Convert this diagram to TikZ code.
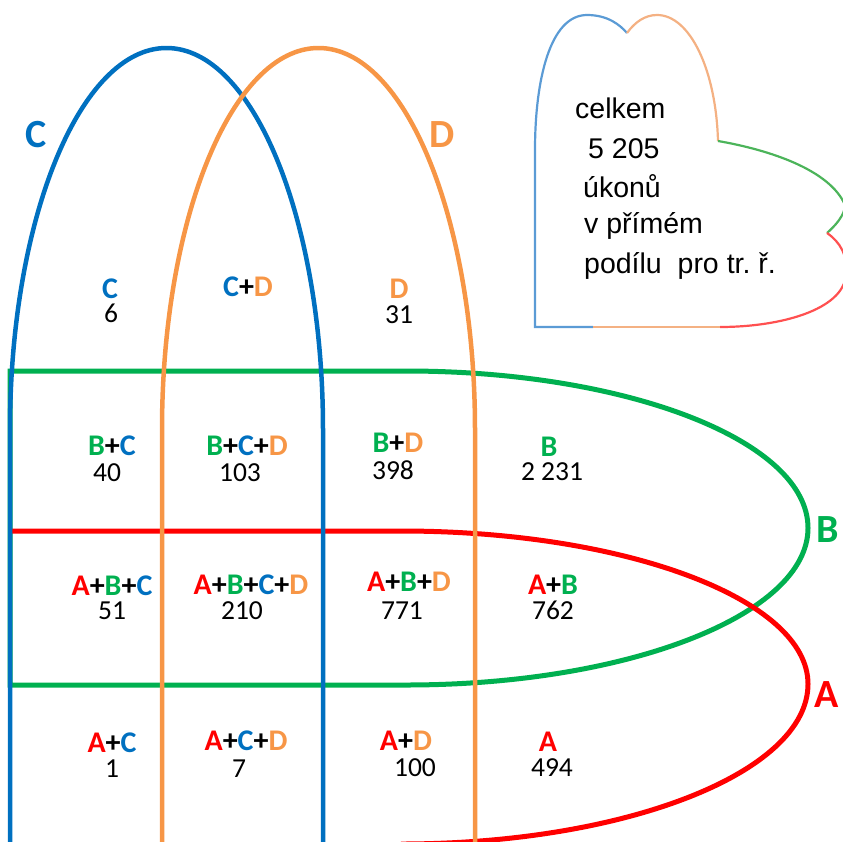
\documentclass[tikz,border=0pt]{standalone}
\usepackage{fontspec}
\newfontfamily\cellfont{Carlito}
\newfontfamily\notefont{Liberation Sans}
\definecolor{setA}{HTML}{FF0000}
\definecolor{setB}{HTML}{00B050}
\definecolor{setC}{HTML}{0070C0}
\definecolor{setD}{HTML}{F79646}
\definecolor{heartC}{HTML}{5B9BD5}
\definecolor{heartD}{HTML}{F4B183}
\definecolor{heartB}{HTML}{4CB45A}
\definecolor{heartA}{HTML}{FF5050}
\newcommand{\lA}{\textcolor{setA}{A}}
\newcommand{\lB}{\textcolor{setB}{B}}
\newcommand{\lC}{\textcolor{setC}{C}}
\newcommand{\lD}{\textcolor{setD}{D}}
\tikzstyle{setline} = [line width=5pt]
\tikzstyle{arch} = [line width=4.5pt]
\tikzstyle{heart} = [line width=2.2pt]
\tikzstyle{cell} = [font=\cellfont\bfseries\fontsize{30}{30}\selectfont, anchor=base, inner sep=0pt]
\tikzstyle{count} = [font=\cellfont\fontsize{27.5}{27.5}\selectfont, anchor=base, inner sep=0pt]
\tikzstyle{setname} = [font=\cellfont\bfseries\fontsize{40}{40}\selectfont, anchor=base, inner sep=0pt]
\tikzstyle{note} = [font=\notefont\fontsize{28.5}{28.5}\selectfont, anchor=base west, inner sep=0pt]

\begin{document}
\begin{tikzpicture}[x=1pt, y=-1pt]
    \useasboundingbox (0,0) rectangle (843,841);
    % Sets B and A
    \draw [setline, setB] (10,685) -- (10,371) -- (406,371)
        arc [start angle=-90, end angle=90, x radius=402, y radius=157] -- cycle;
    \draw [setline, setA] (12,531) -- (401,531)
        arc [start angle=-90, end angle=0, x radius=407, y radius=153]
        arc [start angle=0, end angle=90, x radius=407, y radius=160];
    % Sets C and D
    \draw [arch, setC] (10,850) -- (10,430)
        arc [start angle=180, end angle=360, x radius=156.5, y radius=382] -- (323,850);
    \draw [arch, setD] (162,850) -- (162,430)
        arc [start angle=180, end angle=360, x radius=156.5, y radius=382] -- (475,850);

    % Set names
    \node [setname, text=setC] (nameC) at (36,147) {C};
    \node [setname, text=setD] (nameD) at (442,147) {D};
    \node [setname, text=setB] (nameB) at (828,542) {B};
    \node [setname, text=setA] (nameA) at (827,707) {A};

    % Regions
    \node [cell] (c) at (110,298) {\lC};
    \node [count] (nc) at (111,322) {6};
    \node [cell] (cd) at (248,296) {\lC+\lD};
    \node [cell] (d) at (399,298) {\lD};
    \node [count] (nd) at (399,323) {31};

    \node [cell] (bc) at (112,455) {\lB+\lC};
    \node [count] (nbc) at (107,481) {40};
    \node [cell] (bcd) at (247,455) {\lB+\lC+\lD};
    \node [count] (nbcd) at (240,481) {103};
    \node [cell] (bd) at (398,452) {\lB+\lD};
    \node [count] (nbd) at (393,479) {398};
    \node [cell] (b) at (549,456) {\lB};
    \node [count] (nb) at (552,480) {2 231};

    \node [cell] (abc) at (112,595) {\lA+\lB+\lC};
    \node [count] (nabc) at (112,619) {51};
    \node [cell] (abcd) at (251,594) {\lA+\lB+\lC+\lD};
    \node [count] (nabcd) at (242,619) {210};
    \node [cell] (abd) at (409,591) {\lA+\lB+\lD};
    \node [count] (nabd) at (402,619) {771};
    \node [cell] (ab) at (553,594) {\lA+\lB};
    \node [count] (nab) at (553,619) {762};

    \node [cell] (ac) at (112,752) {\lA+\lC};
    \node [count] (nac) at (112,777) {1};
    \node [cell] (acd) at (246,750) {\lA+\lC+\lD};
    \node [count] (nacd) at (239,777) {7};
    \node [cell] (ad) at (406,750) {\lA+\lD};
    \node [count] (nad) at (415,776) {100};
    \node [cell] (a) at (548,751) {\lA};
    \node [count] (na) at (552,776) {494};

    % Heart with the total
    \draw [heart, heartC] (593,327) -- (535,327) -- (535,150)
        .. controls (535,80) and (550,15) .. (587,15)
        .. controls (608,15) and (620,25) .. (627,33);
    \draw [heart, heartD] (627,33) .. controls (635,22) and (645,15) .. (657,15)
        .. controls (690,15) and (716,70) .. (718,141);
    \draw [heart, heartD] (593,327) -- (720,327);
    \draw [heart, heartB] (718,141) .. controls (770,150) and (830,170) .. (845,205)
        .. controls (845,215) and (835,226) .. (827,233);
    \draw [heart, heartA] (827,233) .. controls (840,242) and (848,255) .. (846,275)
        .. controls (843,310) and (780,327) .. (720,327);
    \node [note] (total1) at (575,118) {celkem};
    \node [note] (total2) at (588,158) {5 205};
    \node [note] (total3) at (583,197) {úkonů};
    \node [note] (total4) at (584,233) {v přímém};
    \node [note] (total5) at (584,273) {podílu\ \ pro tr.\ ř.};
\end{tikzpicture}
\end{document}
